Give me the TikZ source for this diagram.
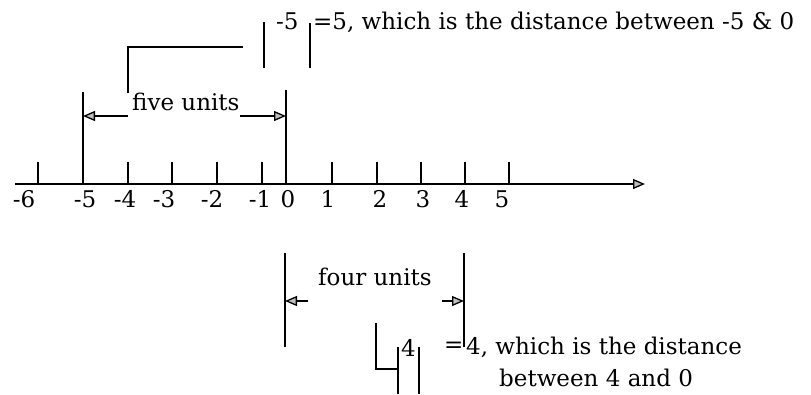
\documentclass[tikz,border=0pt]{standalone}
\usepackage{fontspec}
\setmainfont{DejaVu Serif}
\usetikzlibrary{arrows.meta}
\tikzset{
  ln/.style={line width=1.3pt, line cap=butt},
  tip/.style={-{Triangle[length=12pt,width=10pt,fill=gray!50]}},
  lbl/.style={inner sep=0pt, font=\fontsize{23}{28}\selectfont},
  txt/.style={lbl, anchor=base west},
  num/.style={lbl, anchor=base},
}
\begin{document}
\begin{tikzpicture}[x=1pt,y=-1pt]
\useasboundingbox (0,0) rectangle (811,394);
% axis
\coordinate (axL) at (15,184);
\coordinate (axR) at (645,184);
\draw[ln,tip] (axL) -- (axR);
% ticks and labels
\foreach \i/\x/\lx/\t in {1/38/24/-6, 2/83/85/-5, 3/128/125/-4, 4/172/164/-3, 5/217/212/-2, 6/262/260/-1, 7/286/288/0, 8/332/328/1, 9/377/380/2, 10/421/423/3, 11/465/462/4, 12/509/502/5}{
  \coordinate (t\i) at (\x,184);
  \coordinate (tt\i) at (\x,162);
  \draw[ln] (t\i) -- (tt\i);
  \node[num] (n\i) at (\lx,207) {\t};
}
% tall lines for five units
\coordinate (fL) at (83,92);
\coordinate (fR) at (286,90);
\draw[ln] (t2) -- (fL);
\draw[ln] (t7) -- (fR);
\node[txt] (five) at (132,110) {five units};
\coordinate (fa1) at (128,116);
\coordinate (fa1e) at (83,116);
\coordinate (fa2) at (240,116);
\coordinate (fa2e) at (286,116);
\draw[ln,tip] (fa1) -- (fa1e);
\draw[ln,tip] (fa2) -- (fa2e);
% top bracket
\coordinate (b1) at (128,93);
\coordinate (b2) at (128,47);
\coordinate (b3) at (243,47);
\draw[ln] (b1) -- (b2) -- (b3);
% |-5| = 5 ...
\coordinate (ab1t) at (264,22);
\coordinate (ab1b) at (264,68);
\coordinate (ab2t) at (310,23);
\coordinate (ab2b) at (310,68);
\draw[ln] (ab1t) -- (ab1b);
\draw[ln] (ab2t) -- (ab2b);
\node[txt] (m5) at (276,29) {-5};
\node[txt] (eq5) at (313,29) {=5, which is the distance between -5 \& 0};
% four units
\coordinate (gLt) at (285,253);
\coordinate (gLb) at (285,347);
\coordinate (gRt) at (464,253);
\coordinate (gRb) at (464,347);
\draw[ln] (gLt) -- (gLb);
\draw[ln] (gRt) -- (gRb);
\node[txt] (four) at (318,285) {four units};
\coordinate (ga1) at (308,301);
\coordinate (ga1e) at (285,301);
\coordinate (ga2) at (442,301);
\coordinate (ga2e) at (464,301);
\draw[ln,tip] (ga1) -- (ga1e);
\draw[ln,tip] (ga2) -- (ga2e);
% lower bracket and |4|
\coordinate (c1) at (376,323);
\coordinate (c2) at (376,369);
\coordinate (c3) at (398,369);
\draw[ln] (c1) -- (c2) -- (c3);
\coordinate (d1t) at (398,347);
\coordinate (d1b) at (398,394);
\coordinate (d2t) at (419,347);
\coordinate (d2b) at (419,394);
\draw[ln] (d1t) -- (d1b);
\draw[ln] (d2t) -- (d2b);
\node[txt] (four4) at (401,356) {4};
\node[txt] (eq4) at (444,352) {=};
\node[txt] (w4) at (466,354) {4, which is the distance};
\node[txt] (w4b) at (499,386) {between 4 and 0};
\end{tikzpicture}
\end{document}
